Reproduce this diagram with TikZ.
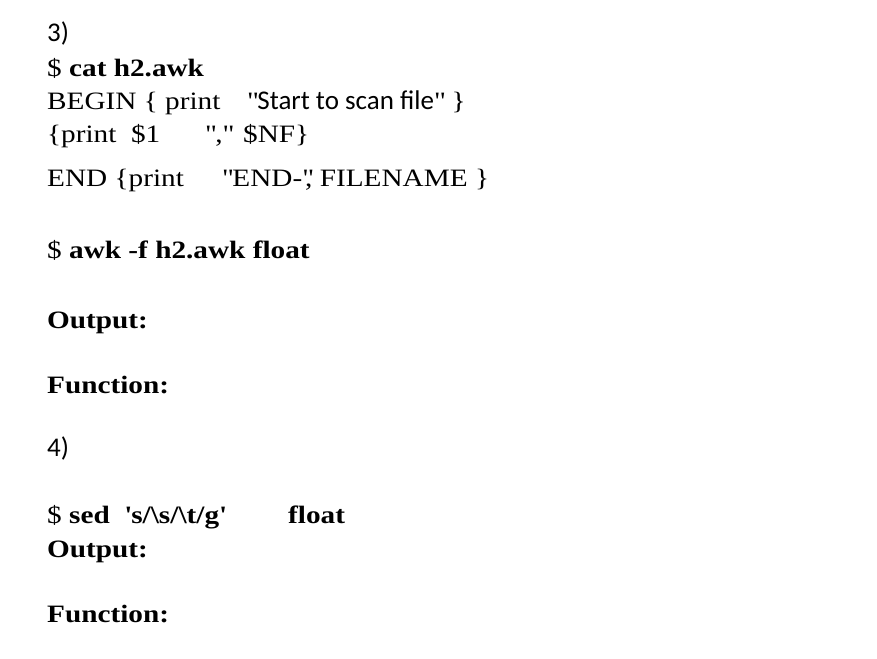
\documentclass[tikz,border=0pt]{standalone}
\usepackage{fontspec}
\setmainfont[FakeStretch=1.17]{Liberation Serif}
\newfontfamily\carfont{Carlito}
\newcommand{\dq}{\textquotedbl}
\newcommand{\sq}{\textquotesingle}
\begin{document}
\begin{tikzpicture}[x=1pt,y=-1pt,every node/.style={anchor=base west,inner sep=0pt,font=\fontsize{25}{29}\selectfont}]
\useasboundingbox[fill=white] (0,0) rectangle (877,658);
\node (n3) at (47,42) {\fontsize{27}{30}\selectfont\carfont 3)};
\node (c1) at (47,77) {\$ \textbf{cat h2.awk}};
\node (b1) at (47,110) {BEGIN \{ print};
\node (b2) at (247,110) {\dq{\fontsize{27}{30}\selectfont\carfont Start to scan file}\dq\ \}};
\node (p1) at (47,142) {\{print~~\$1};
\node (p2) at (205,142) {\dq,\dq};
\node (p3) at (243,142) {\$NF\}};
\node (e1) at (47,186) {END \{print};
\node (e2) at (222,186) {\dq END-\dq};
\node (e3) at (305,186) {, FILENAME \}};
\node (a1) at (47,258) {\$ \textbf{awk -f h2.awk float}};
\node (o1) at (47,328) {\textbf{Output:}};
\node (f1) at (47,393) {\textbf{Function:}};
\node (n4) at (47,456) {\fontsize{27}{30}\selectfont\carfont 4)};
\node (s1) at (47,523) {\$ \textbf{sed~ \sq s/\textbackslash s/\textbackslash t/g\sq}};
\node (s2) at (288,523) {\textbf{float}};
\node (o2) at (47,557) {\textbf{Output:}};
\node (f2) at (47,622) {\textbf{Function:}};
\end{tikzpicture}
\end{document}
